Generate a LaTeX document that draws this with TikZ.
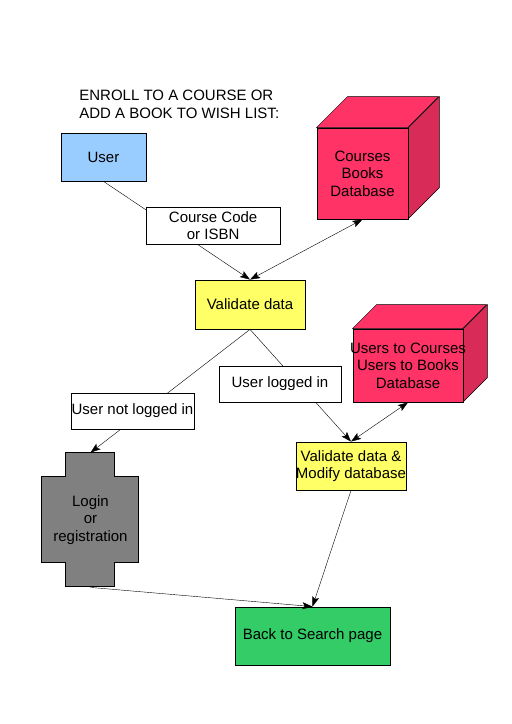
\documentclass[tikz,border=0pt]{standalone}
\usepackage{fontspec}
\setmainfont{Liberation Sans}
\usepackage{tikz}
\usetikzlibrary{shapes.geometric, arrows.meta, positioning, backgrounds}
\definecolor{userblue}{HTML}{99CCFF}
\definecolor{valyellow}{HTML}{FFFF66}
\definecolor{dbred}{HTML}{FF3366}
\definecolor{dbside}{HTML}{D92B57}
\definecolor{loggray}{HTML}{808080}
\definecolor{backgreen}{HTML}{33CC66}
\tikzstyle{usr} = [rectangle, minimum width=85pt, minimum height=48pt, text centered, draw=black, fill=userblue]
\tikzstyle{process} = [rectangle, minimum width=110pt, minimum height=48pt, inner sep=0pt, align=center, draw=black, fill=valyellow]
\tikzstyle{dbase} = [rectangle, inner sep=0pt, align=center, draw=black, fill=dbred]
\tikzstyle{note} = [rectangle, inner sep=0.5pt, align=center, draw=black, fill=white]
\tikzstyle{loginbox} = [rectangle, minimum width=97pt, minimum height=134pt, inner sep=0pt, align=center]
\tikzstyle{finish} = [rectangle, minimum width=155pt, minimum height=58pt, text centered, draw=black, fill=backgreen]
\tikzstyle{arrow} = [->]

\begin{document}
\begin{tikzpicture}[node distance=60pt, line width=0.8pt, >={Stealth[length=10pt, width=7pt, inset=2pt]}, font=\fontsize{15}{17.5}\selectfont]
		\useasboundingbox (0,0) rectangle (512pt,-724pt);
		\node (val) [process, minimum height=49pt] at (250pt,-304.5pt) {Validate data};
		\node (user) [usr, above of=val, xshift=-146.5pt, yshift=87.5pt] {User};
		\node (title) [above of=user, xshift=-24.5pt, yshift=-7.5pt, anchor=west, align=left, inner sep=0pt] {ENROLL TO A COURSE OR\\ADD A BOOK TO WISH LIST:};
		\node (db1) [dbase, minimum width=91pt, minimum height=91pt, right of=val, xshift=52.5pt, yshift=131pt] {Courses\\Books\\Database};
		\node (db2) [dbase, minimum width=110pt, minimum height=73pt, right of=val, xshift=98pt, yshift=-61pt] {\makebox[0pt]{Users to Courses}\\Users to Books\\Database};
		\node (mod) [process, below of=db2, xshift=-57pt, yshift=-40.5pt] {Validate data \&\\Modify database};
		\node (login) [loginbox, below of=val, xshift=-159.5pt, yshift=-155.5pt] {Login\\or\\registration};
		\node (back) [finish, below of=mod, xshift=-38.5pt, yshift=-110pt] {Back to Search page};
		% cube faces and login cross
		\begin{pgfonlayer}{background}
		\filldraw [fill=dbred] (db1.north west) -- ++(31pt,31pt) -- ++(91pt,0) -- ++(-31pt,-31pt) -- cycle;
		\filldraw [fill=dbside] (db1.north east) -- ++(31pt,31pt) -- ++(0,-91pt) -- ++(-31pt,-31pt) -- cycle;
		\filldraw [fill=dbred] (db2.north west) -- ++(24pt,24pt) -- ++(110pt,0) -- ++(-24pt,-24pt) -- cycle;
		\filldraw [fill=dbside] (db2.north east) -- ++(24pt,24pt) -- ++(0,-73pt) -- ++(-24pt,-24pt) -- cycle;
		\filldraw [fill=loggray] ([xshift=24pt]login.north west) -- ++(49pt,0) -- ++(0,-24pt) -- ++(24pt,0) -- ++(0,-86pt) -- ++(-24pt,0) -- ++(0,-24pt) -- ++(-49pt,0) -- ++(0,24pt) -- ++(-24pt,0) -- ++(0,86pt) -- ++(24pt,0) -- cycle;
		\end{pgfonlayer}
		\draw [arrow] (user.south) -- node[note, pos=0.45, xshift=43.7pt, minimum width=134pt, minimum height=37pt] (code) {Course Code\\or ISBN} (val.north);
		\draw [<->] (val.north) -- (db1.south);
		\draw [arrow] (val.south) -- node[note, pos=0.661, xshift=-12.1pt, minimum width=123pt, minimum height=36pt] (nolog) {User not logged in} (login.north);
		\draw [arrow] (val.south) -- node[note, pos=0.487, xshift=-19.2pt, minimum width=122pt, minimum height=36pt] (log) {User logged in} (mod.north);
		\draw [<->] (mod.north) -- (db2.south);
		\draw [arrow] (mod.south) -- (back.north);
		\draw [arrow] (login.south) -- (back.north);
		\end{tikzpicture}
\end{document}
